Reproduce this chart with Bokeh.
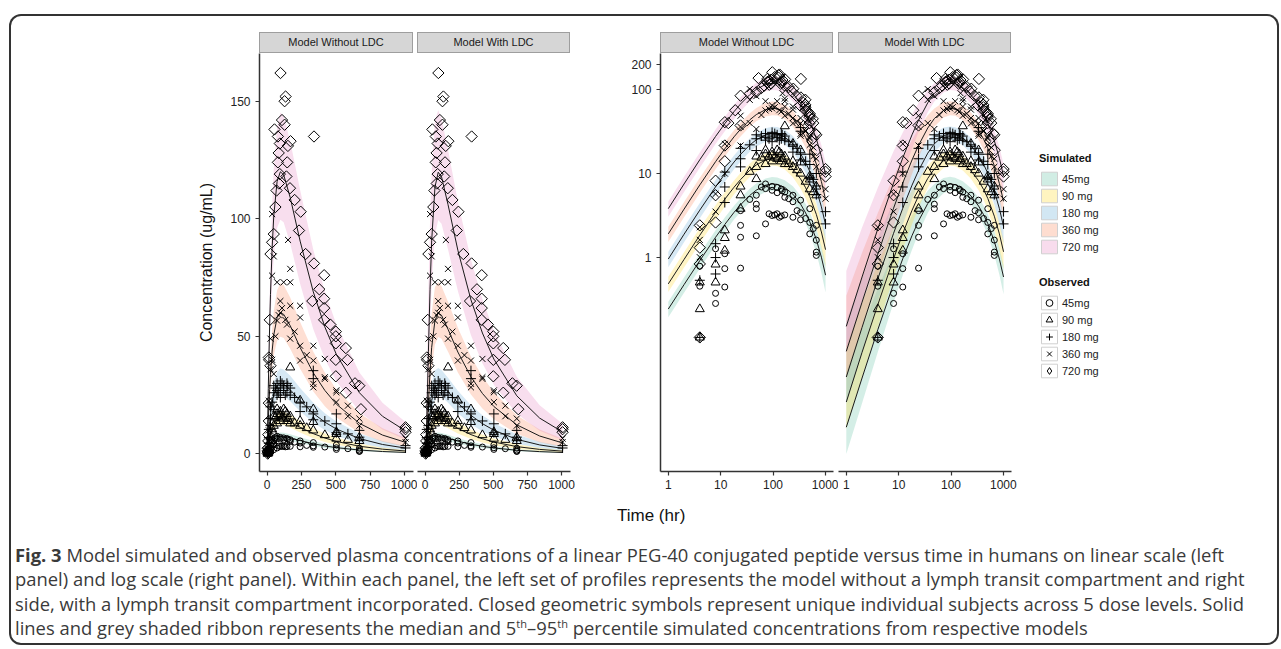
import math
from bokeh.plotting import figure
from bokeh.models import FixedTicker, PrintfTickFormatter, Legend, LegendItem, Div, Spacer
from bokeh.layouts import row, column
from bokeh.embed import file_html
from bokeh.resources import INLINE

# ---------------- data ----------------
dose_labels = ["45mg", "90 mg", "180 mg", "360 mg", "720 mg"]
dose_colors = ["#66c2a5", "#ffd92f", "#6baed6", "#fc8d62", "#e78ac3"]

sim_time = [1, 2, 4, 8, 12, 18, 24, 36, 48, 72, 96, 120, 168, 240, 336, 420, 504, 672, 840, 1008]

# simulated medians, model without LDC
m0_45 = [0.24, 0.47, 0.91, 1.73, 2.46, 3.43, 4.23, 5.47, 6.33, 7.24, 7.50, 7.42, 6.81, 5.66, 4.31, 3.38, 2.64, 1.63, 1.00, 0.61]
m0_90 = [0.48, 0.94, 1.83, 3.46, 4.93, 6.85, 8.46, 10.94, 12.65, 14.48, 15.0, 14.84, 13.63, 11.31, 8.61, 6.75, 5.29, 3.25, 2.0, 1.23]
m0_180 = [0.95, 1.88, 3.65, 6.93, 9.85, 13.7, 16.93, 21.88, 25.3, 28.95, 30.0, 29.68, 27.25, 22.63, 17.23, 13.5, 10.58, 6.5, 4.0, 2.45]
m0_360 = [1.9, 3.75, 7.3, 13.85, 19.7, 27.4, 33.85, 43.75, 50.6, 57.9, 60.0, 59.35, 54.5, 45.25, 34.45, 27.0, 21.15, 13.0, 8.0, 4.9]
m0_720 = [3.8, 7.5, 14.6, 27.7, 39.4, 54.8, 67.7, 87.5, 101.2, 115.8, 120.0, 118.7, 109.0, 90.5, 68.9, 54.0, 42.3, 26.0, 16.0, 9.8]

# simulated medians, model with LDC
m1_45 = [0.0093, 0.036, 0.136, 0.48, 0.96, 1.81, 2.71, 4.38, 5.66, 7.09, 7.49, 7.37, 6.63, 5.41, 4.09, 3.21, 2.52, 1.54, 0.95, 0.58]
m1_90 = [0.0186, 0.073, 0.27, 0.96, 1.93, 3.63, 5.43, 8.75, 11.33, 14.19, 14.98, 14.74, 13.25, 10.83, 8.19, 6.43, 5.04, 3.09, 1.9, 1.16]
m1_180 = [0.037, 0.145, 0.55, 1.93, 3.85, 7.25, 10.85, 17.5, 22.65, 28.38, 29.95, 29.48, 26.5, 21.65, 16.38, 12.85, 10.08, 6.18, 3.8, 2.33]
m1_360 = [0.075, 0.29, 1.09, 3.85, 7.7, 14.5, 21.7, 35.0, 45.3, 56.75, 59.9, 58.95, 53.0, 43.3, 32.75, 25.7, 20.15, 12.35, 7.6, 4.65]
m1_720 = [0.149, 0.58, 2.18, 7.7, 15.4, 29.0, 43.4, 70.0, 90.6, 113.5, 119.8, 117.9, 106.0, 86.6, 65.5, 51.4, 40.3, 24.7, 15.2, 9.3]

# 5th / 95th percentile relative to the median, per time point
lo0 = [0.80, 0.80, 0.80, 0.81, 0.81, 0.82, 0.82, 0.83, 0.83, 0.83, 0.83, 0.83, 0.82, 0.80, 0.77, 0.75, 0.73, 0.69, 0.65, 0.62]
hi0 = [1.22, 1.22, 1.22, 1.21, 1.21, 1.20, 1.20, 1.20, 1.20, 1.20, 1.21, 1.21, 1.22, 1.24, 1.26, 1.28, 1.30, 1.33, 1.36, 1.38]
lo1 = [0.48, 0.50, 0.54, 0.60, 0.64, 0.68, 0.72, 0.77, 0.80, 0.82, 0.83, 0.83, 0.82, 0.80, 0.77, 0.75, 0.73, 0.69, 0.65, 0.62]
hi1 = [4.6, 3.9, 3.1, 2.4, 2.0, 1.75, 1.6, 1.42, 1.32, 1.25, 1.22, 1.21, 1.22, 1.24, 1.26, 1.28, 1.30, 1.33, 1.36, 1.38]

# observed concentrations
obs45_t = [4, 4, 8, 8, 8, 12, 12, 12, 24, 24, 24, 24, 36, 48, 48, 48, 48, 60, 72, 72, 72, 84, 96, 96, 96, 108, 120, 120, 120, 132, 144, 144, 150, 168, 168, 168, 200, 240, 240, 240, 288, 336, 336, 336, 420, 504, 504, 504, 588, 672, 672, 672, 672]
obs45_c = [0.45, 0.78, 0.37, 0.28, 1.26, 1.1, 0.73, 0.44, 2.4, 1.73, 0.74, 3.6, 4.9, 1.8, 4.3, 3.8, 5.5, 6.9, 2.5, 7.5, 6.6, 3.3, 6.3, 3.15, 7.0, 3.2, 3.3, 6.8, 5.9, 3.0, 3.1, 6.5, 6.2, 3.2, 6.0, 5.2, 5.0, 3.0, 5.5, 4.6, 3.6, 3.4, 4.8, 2.8, 2.9, 2.6, 3.8, 1.9, 2.2, 1.15, 1.05, 2.4, 1.6]
obs90_t = [4, 4, 4, 8, 8, 12, 12, 12, 24, 24, 24, 36, 48, 48, 48, 60, 72, 72, 72, 84, 96, 96, 96, 108, 120, 120, 132, 144, 144, 150, 168, 168, 168, 200, 240, 240, 240, 288, 336, 336, 336, 420, 504, 504, 504, 588, 672, 672]
obs90_c = [0.24, 0.11, 0.5, 0.82, 0.5, 2.1, 1.7, 1.2, 3.8, 5.5, 7.0, 10.5, 8.6, 12, 16, 15.5, 13, 17, 19, 16, 14, 16.5, 18, 15.5, 15, 19, 18, 14, 17, 15, 36.8, 13, 16, 13, 22.7, 12, 14, 11, 19, 13.6, 10, 8.0, 9.3, 8.5, 6.5, 6.0, 7, 5.5]
obs180_t = [4, 4, 8, 8, 8, 12, 12, 12, 24, 24, 24, 36, 48, 48, 48, 60, 72, 72, 72, 84, 96, 96, 96, 108, 120, 120, 132, 144, 144, 150, 168, 168, 200, 240, 240, 288, 336, 336, 336, 336, 420, 504, 504, 504, 588, 672, 672, 672, 1008, 1008]
obs180_c = [0.53, 0.11, 0.63, 0.99, 1.45, 6.9, 10.4, 4.5, 15, 12, 20, 22, 18.8, 26, 29, 28, 27, 30, 25, 26, 28, 31, 24, 30, 27, 29, 25, 26, 30, 29, 25, 28, 24, 22, 18, 20, 35.4, 32, 17, 14.5, 14, 12.8, 17, 9, 8.5, 10, 7.1, 5.6, 3.5, 2.5]
obs360_t = [4, 4, 4, 8, 8, 12, 12, 24, 24, 24, 36, 36, 36, 48, 48, 60, 72, 72, 84, 96, 96, 108, 120, 132, 144, 152, 168, 168, 168, 168, 200, 240, 240, 240, 240, 288, 336, 336, 336, 336, 420, 420, 420, 504, 504, 504, 588, 588, 672, 672, 1008, 1008]
obs360_c = [2.28, 1.61, 1.0, 5.7, 3.5, 22.6, 10, 49, 36, 21.6, 40, 75.8, 102, 84, 34, 50, 56.7, 73, 59, 65, 60, 62, 73, 57, 55, 91, 78.7, 73, 63, 49, 52, 58, 63, 46, 39.7, 42, 46, 39.7, 28.3, 29.8, 31.9, 40.4, 32.6, 27, 26.2, 22, 20.5, 16, 15, 12, 6.5, 5]
obs720_t = [4, 4, 4, 4, 8, 8, 8, 12, 12, 12, 14, 19, 24, 24, 36, 48, 53, 60, 68, 78, 78, 84, 85, 92, 92, 97, 108, 127, 127, 134, 140, 146, 151, 166, 170, 200, 232, 244, 280, 329, 341, 341, 380, 415, 415, 415, 415, 460, 500, 500, 500, 500, 500, 573, 573, 585, 640, 671, 683, 1008, 1008, 1008]
obs720_c = [0.11, 0.83, 1.3, 2.4, 2.6, 5.5, 8.2, 21.6, 14, 41, 40, 57, 85, 37.5, 90, 93.5, 138, 105, 112, 135, 124, 128, 115, 132, 119, 162, 142, 150, 140, 152, 118, 124, 131, 113, 133, 108, 95, 103, 85, 65, 135, 81, 70, 76, 66, 62, 57, 55, 52, 50, 47, 40, 33, 45, 26, 40, 30, 29, 19, 11.3, 9.2, 10.5]

lin_x_ticks = [0, 250, 500, 750, 1000]
lin_y_ticks = [0, 50, 100, 150]
log_x_ticks = [1, 10, 100, 1000]
log_y_ticks = [1, 10, 100, 200]

# ---------------- helpers ----------------
med0 = [m0_45, m0_90, m0_180, m0_360, m0_720]
med1 = [m1_45, m1_90, m1_180, m1_360, m1_720]
obs = [(obs45_t, obs45_c), (obs90_t, obs90_c), (obs180_t, obs180_c), (obs360_t, obs360_c), (obs720_t, obs720_c)]
markers = [("circle", 6, 0.0), ("triangle", 9, 0.0), ("cross", 10, 0.0), ("x", 8.5, 0.0), ("square", 8, math.pi / 4)]
legend_markers = ["circle", "triangle", "cross", "x", "diamond"]

FONT = "Liberation Sans"


def style(p):
    p.background_fill_color = "white"
    p.border_fill_alpha = 0
    p.outline_line_color = None
    p.grid.grid_line_color = None
    for ax in p.axis:
        ax.axis_line_color = "#333333"
        ax.axis_line_width = 1.5
        ax.major_tick_line_color = "#333333"
        ax.major_tick_line_width = 1.2
        ax.major_tick_out = 4
        ax.major_tick_in = 0
        ax.minor_tick_line_color = None
        ax.major_label_text_font = FONT
        ax.major_label_text_font_size = "12px"
        ax.major_label_text_color = "#222222"
        ax.formatter = PrintfTickFormatter(format="%d")


def draw(p, med, lo_f, hi_f):
    for m, col in zip(med, dose_colors):
        lo = [v * f for v, f in zip(m, lo_f)]
        hi = [v * f for v, f in zip(m, hi_f)]
        p.varea(x=sim_time, y1=lo, y2=hi, fill_color=col, fill_alpha=0.28)
    for m in med:
        p.line(sim_time, m, line_color="#1a1a1a", line_width=1)
    for (t, c), (mk, sz, ang) in zip(obs, markers):
        p.scatter(t, c, marker=mk, size=sz, angle=ang, line_color="black",
                  fill_color=None, line_width=1)


H = 443  # frame 418 + bottom 25
common = dict(height=H, output_backend="svg", toolbar_location=None,
              min_border_top=0, min_border_bottom=25)

lin_xr = (-56, 1066)
lin_yr = (-7.5, 170.3)
log_xr = (0.71, 1430)
log_yr = (0.00275, 271.5)

pA = figure(width=250 + 154 + 4, x_range=lin_xr, y_range=lin_yr,
            min_border_left=250, min_border_right=4, **common)
pB = figure(width=153 + 10, x_range=lin_xr, y_range=lin_yr, y_axis_location=None,
            min_border_left=0, min_border_right=10, **common)
pC = figure(width=80 + 173 + 5, x_range=log_xr, y_range=log_yr,
            x_axis_type="log", y_axis_type="log",
            min_border_left=80, min_border_right=5, **common)
pD = figure(width=173 + 8, x_range=log_xr, y_range=log_yr,
            x_axis_type="log", y_axis_type="log", y_axis_location=None,
            min_border_left=0, min_border_right=8, **common)

draw(pA, med0, lo0, hi0)
draw(pB, med1, lo1, hi1)
draw(pC, med0, lo0, hi0)
draw(pD, med1, lo1, hi1)

for p in (pA, pB, pC, pD):
    style(p)
for p in (pA, pB):
    p.xaxis.ticker = FixedTicker(ticks=lin_x_ticks, minor_ticks=[])
pA.yaxis.ticker = FixedTicker(ticks=lin_y_ticks, minor_ticks=[])
for p in (pC, pD):
    p.xaxis.ticker = FixedTicker(ticks=log_x_ticks, minor_ticks=[])
pC.yaxis.ticker = FixedTicker(ticks=log_y_ticks, minor_ticks=[])

for p in (pA, pB, pC, pD):
    p.xaxis.major_label_standoff = 4
for p in (pA, pC):
    p.yaxis.major_label_standoff = 5

pA.yaxis.axis_label = "Concentration (ug/mL)"
pA.yaxis.axis_label_text_font = FONT
pA.yaxis.axis_label_text_font_size = "16px"
pA.yaxis.axis_label_text_font_style = "normal"
pA.yaxis.axis_label_text_color = "#111111"
pA.yaxis.axis_label_standoff = 12

# ---------------- legend figure ----------------
lg = figure(width=200, height=464, x_range=(0, 1), y_range=(0, 1),
            x_axis_location=None, y_axis_location=None, min_border=0,
            output_backend="svg", toolbar_location=None)
lg.outline_line_color = None
lg.grid.visible = False
lg.border_fill_alpha = 0
lg.background_fill_alpha = 0
nan = float("nan")

sim_items = []
for lab, col in zip(dose_labels, dose_colors):
    r = lg.rect(x=[nan], y=[nan], width=1, height=1, fill_color=col, fill_alpha=0.3,
                line_color="#d0d0d0", line_width=1)
    sim_items.append(LegendItem(label=lab, renderers=[r]))

obs_items = []
for lab, mk in zip(dose_labels, legend_markers):
    rb = lg.rect(x=[nan], y=[nan], width=1, height=1, fill_color="white",
                 line_color="#d0d0d0", line_width=1)
    rm = lg.scatter(x=[nan], y=[nan], marker=mk, size=7, line_color="black",
                    fill_color=None, line_width=1)
    obs_items.append(LegendItem(label=lab, renderers=[rb, rm]))

leg_style = dict(glyph_width=20, glyph_height=17, label_height=17, spacing=0,
                 padding=0, margin=0, border_line_color=None, background_fill_alpha=0,
                 label_standoff=3, title_standoff=6,
                 label_text_font=FONT, label_text_font_size="11px", label_text_color="#222222",
                 title_text_font=FONT, title_text_font_size="11px", title_text_font_style="bold",
                 title_text_color="#111111")
leg_sim = Legend(items=sim_items, title="Simulated", location=(20, 241), **leg_style)
leg_obs = Legend(items=obs_items, title="Observed", location=(20, 117), **leg_style)
lg.add_layout(leg_sim, "center")
lg.add_layout(leg_obs, "center")


# ---------------- strips, labels, caption ----------------
def strip(text, left, w):
    html = (f"<div style=\"margin-left:{left}px;width:{w}px;height:21px;box-sizing:border-box;"
            f"background:#d6d6d6;border:1px solid #9e9e9e;text-align:center;"
            f"font-family:'Liberation Sans',Arial,sans-serif;font-size:11px;line-height:19px;"
            f"color:#1a1a1a;white-space:nowrap\">{text}</div>")
    return Div(text=html, width=left + w, height=21, margin=(0, 0, 0, 0))


colA = column(strip("Model Without LDC", 250, 154), pA, spacing=0)
colB = column(strip("Model With LDC", 0, 153), pB, spacing=0)
colC = column(strip("Model Without LDC", 80, 173), pC, spacing=0)
colD = column(strip("Model With LDC", 0, 173), pD, spacing=0)

plots_row = row(colA, colB, colC, colD, lg, spacing=0)

time_div = Div(text=("<div style=\"padding-left:608px;font-family:'Liberation Sans',Arial,sans-serif;"
                     "font-size:17px;line-height:40px;color:#111111;white-space:nowrap\">Time (hr)</div>"),
               width=1263, height=40, margin=(0, 0, 0, 0))

caption_lines = [
    "<b>Fig. 3</b> Model simulated and observed plasma concentrations of a linear PEG-40 conjugated peptide versus time in humans on linear scale (left",
    "panel) and log scale (right panel). Within each panel, the left set of profiles represents the model without a lymph transit compartment and right",
    "side, with a lymph transit compartment incorporated. Closed geometric symbols represent unique individual subjects across 5 dose levels. Solid",
    "lines and grey shaded ribbon represents the median and 5<sup style=\"font-size:60%;line-height:0\">th</sup>&ndash;95<sup style=\"font-size:60%;line-height:0\">th</sup> percentile simulated concentrations from respective models",
]
cap_div = Div(text=("<div style=\"padding-left:6px;font-family:'Open Sans',sans-serif;font-size:18.4px;"
                    "line-height:24.3px;color:#3a3a3a;white-space:nowrap\">" + "<br>".join(caption_lines) + "</div>"),
              width=1268, height=97, margin=(7, 0, 0, 0))

box = column(Spacer(width=10, height=18, margin=(0, 0, 0, 0)), plots_row, time_div, cap_div,
             width=1270, height=631, spacing=0, margin=(14, 0, 0, 9),
             styles={"box-shadow": "inset 0 0 0 2px #333333", "border-radius": "12px"})

open("out.html", "w").write(file_html(box, INLINE))
